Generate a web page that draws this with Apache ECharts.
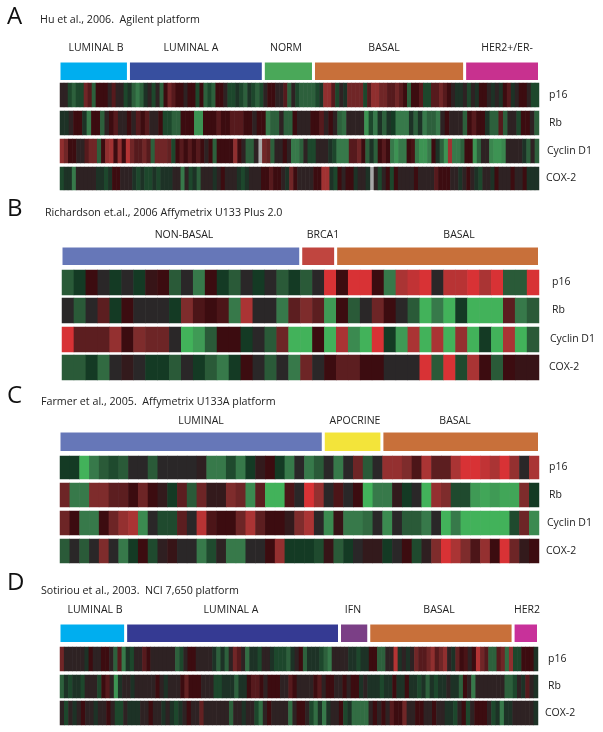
<!DOCTYPE html>
<html><head><meta charset="utf-8">
<style>html,body{margin:0;padding:0;background:#fff}#c{width:603px;height:732px}</style>
<script src="https://cdn.jsdelivr.net/npm/echarts@6/dist/echarts.min.js"></script>
</head><body><div id="c"></div>
<script>
// expression levels: negative = green, positive = red, null = missing (grey)
const huP16=[0,0,-2,-3,-2,-2,3,2,-3,1,1,1,0,2,0,0,-2,-1,-3,-4,-3,-1,0,-2,0,-3,1,3,2,1,1,0,1,1,-2,1,-3,-2,-3,1,1,0,-2,-2,-1,-2,-3,-1,-2,-3,-2,0,1,1,0,0,2,-3,0,-2,-3,-3,-3,-3,-2,-1,4,4,2,-2,0,-1,3,3,3,3,-2,2,4,4,3,3,2,2,3,2,1,-3,1,1,2,-2,-2,2,2,3,2,1,0,-1,-1,0,-2,0,-1,1,1,0,-1,0,-1,1,2,-1,0,1,1,0,-2,-2];
const huRb=[-1,-1,0,1,1,-1,-4,1,1,-3,0,1,2,0,0,1,0,2,1,2,0,0,1,-2,-2,-3,-3,1,1,1,-5,-5,1,1,1,2,1,1,2,2,2,1,1,0,1,1,-4,-3,-3,0,-3,-3,1,0,0,0,1,1,2,0,1,0,-3,-3.5,0,0,0,0,-5,-2,-4,-1,-3,-1,-1.5,-4,-4,-4,-1,-3,-1,-4,-3,-3,-4,0,1,0,0,0,-3,1,2,1,1,-1,-3,-3,2,-3,0,0,-2,1,1,0,-3];
const huCyclin=[4,3,1,1,0,0,2,3,3,-3,1,4,4.5,1,4,1,5,3,2,2,3,2,-3,3,3,3,2.5,-2,1,2,1,2,1,2,1,0,1,-3,1,1,1,1,4,1,0,-3,-3,0,null,3,2.5,-3,0,0,1,0,-4,-4,-3,0,-2,-2,0,0,0,-1,-2,-4,-4,-4,2,2,3,1,-3,-1,-3,1,2,1,-4,-5,-4,-4,1,1.5,-4,-5,-5,-4,1,-1,-3,-5,4.5,-4,-4,-3,1,1,-5,-3,0,0,-4.5,-5,-5,-4.5,0,0,0,0,-1,-3,0,-3];
const huCox=[-2,-1,-1,-4,0,0,0,0,0,-1,-1,-2,-1,1,1,0,0,0,-1,-2,-1,-2,-2,-1,-2,-1,-1,-1,0,0,-4,0,-2,-1,-3,0,0,0,-1,0,1,0,0,0,-1,-2,-1,0,0,0,1,1,2,1,1,0,-1,3,1,0,0,0,0,1,1,4.5,4.5,-1,-2,1,0,1,1,-1,0,0,-1,null,0,-2,0,1,-2,1,0,0,0,0,1,0,0,0,0,2,1,1,1,0,0,-1,0,1,0,-1,-2,0,0,-1,1,0,0,0,1,0,0,1,-1,-1,-1];
const richP16=[-2,-1,1,0,-1,0,-1,0.7,1,-2,0,-3,1,-1,-2,0,-1,0,-2,-1,-2,0,5,1,5,5,1,-3,4,4.5,5,0,4.3,4.3,5,4,5,-2,-2,5];
const richRb=[0,-2,0,2,-1,1,0,0,0,-1,3,1.5,1,1.5,-3,4,0,0,-3,2,3,2,-4,1,-2,0,2.5,1,0,-2,-5,-3,-5,-1,-5,-5,-5,2,-3,-2];
const richCyclin=[5,2,2,2,3.5,1,3,2.5,2.5,0,-5,-4,-2,1,1,-1,0,-2,2.5,-5,-5,1,-5,4,-3.5,-5,5,-1,-4,4,-5,4,-5,3.5,-5,-1,-5,4,-5,-2];
const richCox=[-2,-2,-1,-2.5,0,0.5,0,-1,-1,-2,0,-1,-2,-3,-1,1,0,-2,0,-3,2.5,0,1,2,2,1,1,0,0,0,5,-2,5,-1.5,4,1,-2,1,0.7,0.7];
const farmerP16=[-1,-1,-5,-3,-2,-1.5,-2,0,0,-2,0,0,0,0,0.3,-3,-3,-1.5,-3,-1,0.5,1,-1,-3,0,-3,-2,0,-3,0,2.5,-2,0,3.5,3.5,3,1.5,4,2,2,4,5,5,4.5,4,5,3.5,0,4];
const farmerRb=[2.5,-3,-3,3,3,2,2,1,2.5,1,0.5,-1,2,-2,2.5,0.5,0.5,3,2.5,-3.5,2,-5,-5,1.5,0,5,3.5,0,1.5,0,1,-5,-3,-3,0.5,-1,0,-5,3.5,3,-1.5,-1.5,-4,-4.5,-4,-4.5,-4.5,3,-1];
const farmerCyclin=[2.5,1,-3,-3,1,2.5,3.5,4,-3.5,0,-1.5,-1.5,2,0,4.3,1.5,1,1,2.5,4,2,1,1,0.5,3,4,0,-3.5,0.7,-3,-3,-2.5,0,-3.5,0,-2,-2,-3,0,-5,-3,-5,-5,-5,-5,-5,-1.5,2.5,-3.5];
const farmerCox=[-2,0,-2,0,3,0,-3,-1,1,-1.5,0.3,0.7,0,0,-3,-1.5,0.2,-3,-3,0,0,1,3.5,-1,-1,-1,-1.5,0.7,-2,-1,0,0.5,0.5,-1,0,1,-1.5,0.3,3,5,4,3,1.5,3.5,1,5,2.5,0.5,1];
const sotP16=[3,0,0,0,0,0,-1,1,0,0,1,1,0,-3,2,-4,-1,-2,0,0,2,1,0,0,0,0,0,0,-3,-2,0,1,1,0,0,0,0,-1,-3,-1,-3,0,3,2,0,-3.5,-1,-1,-2,0,0,-1,-2,-2,-2,-3,-1,0,1,-3,-1,-1,-1,-2,-3,-4,0,0,0,0,-1,-1,-2,-1,-1,1,1,-3,-3,0,0,5,-1,0,-1,0,3,2,2,3,4,2,3,4,0,-1,2.5,1,1.5,0,1,5,3,2,-3,-3,2,3,-3.5,4,-2,-2,1,1,1,-1];
const sotRb=[-3,-1,-2,-1,-1,-2,0,0,0,-2,1,2,0,-5,-1,0,0,-1,0,0,0,0,0,1,0,-1,0,0,0,1,2.5,1,1,1,0,0,0,-2,-2,-1,-1,-1,-3,-1,-1,1,2,2,1,0,1,1,1,0,0,2,1,0,0,0,0,1,2,0,1,1,0,0,1,0,1,1,-1,0,-1,-1,-1,-2,-1,-1,1,-1,-1,1,-1,-1,-2,-1,-3,-1,-2,-1,-1,0,-1,-1,-3,1,0,-4,0,0,0,0,0,0,0,-3,-3,-2,0,-1,2,0,-1];
const sotCox=[0,-2,0,-1,0,1,0,0,-1,0,0,1,0,-2,-2,0,-1,-1,-1,0,0,1,0,0,-1,0,-1,-2,-1,0,1,0,0,2.5,0,0,0,0,0,0,-3,0,0,-1,0,0,-2,-3.5,0,1,0,0,0,0,-3.5,0,1,1,0,-2,-3.5,-1,-4,-1,0,0,1,-2,-1,-3.5,-3.5,-3.5,-3.5,0,1,0,1,0,2,1,1,3,0,0,1,1,0,0,1,0,0,-1,-1,-2,0,1,-2,0,1,1,1,0,-2,-1,-4,-1,-1,0,0,0,0,0,-1];

// subtype shares of each cohort, percent (estimated from the strips)
const huTypes=["LUMINAL B","LUMINAL A","NORM","BASAL","HER2+/ER-"];
const huShares=[14.45,28.07,10.44,31.46,15.58];
const richTypes=["NON-BASAL","BRCA1","BASAL"];
const richShares=[50.1,7.3,42.6];
const farmerTypes=["LUMINAL","APOCRINE","BASAL"];
const farmerShares=[55.0,12.2,32.8];
const sotTypes=["LUMINAL B","LUMINAL A","IFN","BASAL","HER2"];
const sotShares=[13.9,44.6,6.1,30.1,5.3];

const scale=['#42b25a','#3f9a55','#37794a','#2a5a38','#143a24','#2a2728','#3c0c10','#5c1e20','#7e2c2c','#aa3434','#d83235'];
const FONT='"Open Sans"';

const panels=[
 {letter:'A',ly:17,title:'Hu et al., 2006.  Agilent platform',tx:40,ty:20,left:60,width:479,barTop:62,barH:19,dense:true,
  types:huTypes,shares:huShares,colors:['#00aeef','#374f9f','#4aa859','#c8703a','#c8318f'],
  labelX:[96,191,286,384,507],labelY:48,
  rows:[{g:'p16',d:huP16,top:83,h:24,lx:549},{g:'Rb',d:huRb,top:111,h:24,lx:549},{g:'Cyclin D1',d:huCyclin,top:139,h:24,lx:547},{g:'COX-2',d:huCox,top:167,h:23,lx:546}]},
 {letter:'B',ly:209,title:'Richardson et.al., 2006 Affymetrix U133 Plus 2.0',tx:45,ty:213,left:62,width:477,barTop:247,barH:19,
  types:richTypes,shares:richShares,colors:['#6677b8','#c0453f','#c8703a'],
  labelX:[184,323,459],labelY:235,
  rows:[{g:'p16',d:richP16,top:270,h:25,lx:552},{g:'Rb',d:richRb,top:298,h:25,lx:552},{g:'Cyclin D1',d:richCyclin,top:327,h:25,lx:550},{g:'COX-2',d:richCox,top:355,h:25,lx:549}]},
 {letter:'C',ly:396,title:'Farmer et al., 2005.  Affymetrix U133A platform',tx:41,ty:402,left:60,width:479,barTop:432,barH:20,
  types:farmerTypes,shares:farmerShares,colors:['#6677b8','#f3e43a','#c8703a'],
  labelX:[201,355,455],labelY:421,
  rows:[{g:'p16',d:farmerP16,top:456,h:23,lx:549},{g:'Rb',d:farmerRb,top:483,h:24,lx:549},{g:'Cyclin D1',d:farmerCyclin,top:511,h:24,lx:547},{g:'COX-2',d:farmerCox,top:539,h:24,lx:546}]},
 {letter:'D',ly:583,title:'Sotiriou et al., 2003.  NCI 7,650 platform',tx:41,ty:591,left:60,width:478,barTop:624,barH:19,dense:true,
  types:sotTypes,shares:sotShares,colors:['#00aeef','#353a93','#7b3f86','#c8703a','#c8319a'],
  labelX:[95,231,353,439,527],labelY:610,
  rows:[{g:'p16',d:sotP16,top:647,h:24,lx:548},{g:'Rb',d:sotRb,top:675,h:23,lx:548},{g:'COX-2',d:sotCox,top:701,h:24,lx:545}]}
];

const grid=[],xAxis=[],yAxis=[],series=[],graphic=[],heatWide=[],heatDense=[];
panels.forEach(p=>{
  graphic.push({type:'text',silent:true,style:{text:p.letter,x:7,y:p.ly,verticalAlign:'middle',font:'24px '+FONT,fill:'#111'}});
  graphic.push({type:'text',silent:true,style:{text:p.title,x:p.tx,y:p.ty,verticalAlign:'middle',font:'10.7px '+FONT,fill:'#222'}});
  p.types.forEach((t,i)=>{
    graphic.push({type:'text',silent:true,style:{text:t,x:p.labelX[i],y:p.labelY,align:'center',verticalAlign:'middle',font:'10.5px '+FONT,fill:'#222'}});
  });
  let gi=grid.length;
  grid.push({left:p.left-1,top:p.barTop-1,width:p.width+1.5,height:p.barH+1.5});
  const total=p.shares.reduce((a,b)=>a+b,0);
  xAxis.push({type:'value',gridIndex:gi,min:0,max:total,show:false});
  yAxis.push({type:'category',gridIndex:gi,data:['subtype'],show:false});
  p.types.forEach((t,i)=>{
    series.push({type:'bar',name:t,xAxisIndex:gi,yAxisIndex:gi,stack:'s'+p.letter,barWidth:'100%',silent:true,animation:false,
      data:[p.shares[i]],itemStyle:{color:p.colors[i],borderColor:'#fff',borderWidth:1.5}});
  });
  p.rows.forEach(r=>{
    gi=grid.length;
    grid.push({left:p.left,top:r.top,width:p.width,height:r.h,show:true,backgroundColor:'#a8a8a8',borderWidth:0});
    xAxis.push({type:'category',gridIndex:gi,data:r.d.map((_,i)=>i),show:false});
    yAxis.push({type:'category',gridIndex:gi,data:[r.g],position:'right',axisLine:{show:false},axisTick:{show:false},
      axisLabel:{fontFamily:FONT,fontSize:10.5,color:'#222',margin:r.lx-(p.left+p.width)}});
    (p.dense?heatDense:heatWide).push(series.length);
    series.push({type:'heatmap',xAxisIndex:gi,yAxisIndex:gi,silent:true,animation:false,progressive:0,
      data:r.d.map((v,i)=>v===null?null:[i,0,v]).filter(Boolean),itemStyle:{borderWidth:0}});
  });
});

const chart=echarts.init(document.getElementById('c'),null,{renderer:'canvas'});
chart.setOption({animation:false,backgroundColor:'#fff',grid,xAxis,yAxis,series,graphic,
  visualMap:[
   {show:false,type:'continuous',min:-5,max:5,seriesIndex:heatWide,dimension:2,inRange:{color:scale}},
   {show:false,type:'continuous',min:-6.5,max:6,seriesIndex:heatDense,dimension:2,inRange:{color:scale}}
  ]});
</script></body></html>
